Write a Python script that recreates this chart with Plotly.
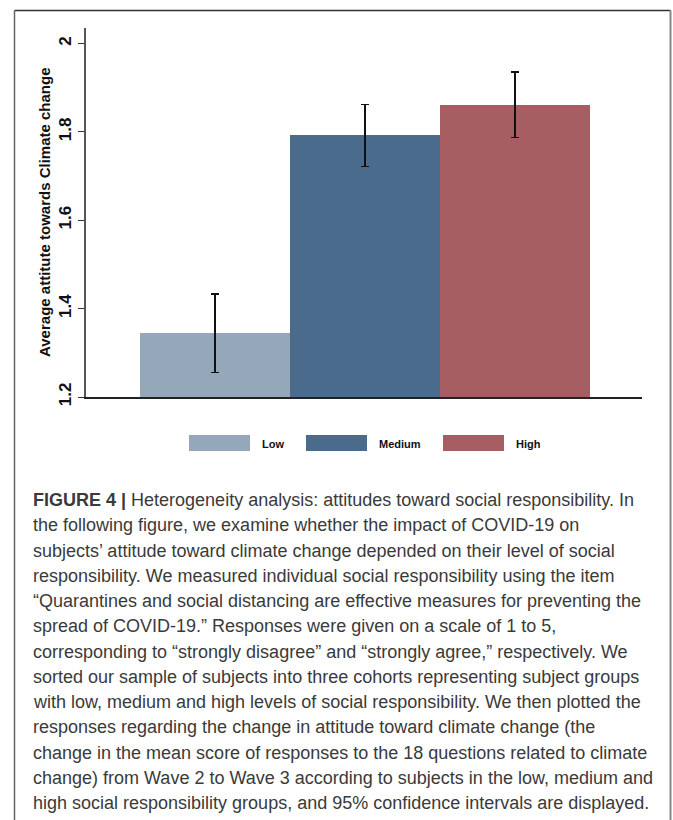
import plotly.graph_objects as go

# Social-responsibility cohorts and their mean attitude with 95% CI half-widths
groups = ["Low", "Medium", "High"]
means = [1.344, 1.792, 1.861]
ci_half = [0.089, 0.070, 0.074]
colors = ["#95a8b9", "#4a6b8b", "#a65e62"]

y_ticks = [1.2, 1.4, 1.6, 1.8, 2.0]
y_tick_labels = ["1.2", "1.4", "1.6", "1.8", "2"]

caption_lines = [
    "<b>FIGURE 4 |</b> Heterogeneity analysis: attitudes toward social responsibility. In",
    "the following figure, we examine whether the impact of COVID-19 on",
    "subjects\u2019 attitude toward climate change depended on their level of social",
    "responsibility. We measured individual social responsibility using the item",
    "\u201cQuarantines and social distancing are effective measures for preventing the",
    "spread of COVID-19.\u201d Responses were given on a scale of 1 to 5,",
    "corresponding to \u201cstrongly disagree\u201d and \u201cstrongly agree,\u201d respectively. We",
    "sorted our sample of subjects into three cohorts representing subject groups",
    "with low, medium and high levels of social responsibility. We then plotted the",
    "responses regarding the change in attitude toward climate change (the",
    "change in the mean score of responses to the 18 questions related to climate",
    "change) from Wave 2 to Wave 3 according to subjects in the low, medium and",
    "high social responsibility groups, and 95% confidence intervals are displayed.",
]

W, H = 673, 820
L, R, T, B = 86, 31, 28, 423
PW, PH = W - L - R, H - T - B


def px(x):
    return (x - L) / PW


def py(y):
    return (H - B - y) / PH


fig = go.Figure()
fig.add_trace(go.Bar(
    x=list(range(len(groups))),
    y=[m - 1.2 for m in means],
    base=1.2,
    width=1.0,
    marker=dict(color=colors, line=dict(width=0)),
    error_y=dict(type="data", array=ci_half, symmetric=True,
                 color="#111111", thickness=1.6, width=4),
    showlegend=False,
    hoverinfo="skip",
))

shapes = []
annotations = []

# Outer frame of the figure panel
frame_l, frame_r, frame_t, frame_b = px(14.5), px(670.5), py(10.5), py(830)
shapes.append(dict(type="line", xref="paper", yref="paper", x0=frame_l, x1=frame_r,
                   y0=frame_t, y1=frame_t, line=dict(color="#333333", width=1.5)))
shapes.append(dict(type="line", xref="paper", yref="paper", x0=frame_l, x1=frame_l,
                   y0=frame_t, y1=frame_b, line=dict(color="#666666", width=1.5)))
shapes.append(dict(type="line", xref="paper", yref="paper", x0=frame_r, x1=frame_r,
                   y0=frame_t, y1=frame_b, line=dict(color="#888888", width=2)))

# Legend: wide swatches with bold labels
legend_box_x = [189, 306, 443]
legend_label_x = [260, 377, 514]
for gx, lx, name, c in zip(legend_box_x, legend_label_x, groups, colors):
    shapes.append(dict(type="rect", xref="paper", yref="paper",
                       x0=px(gx), x1=px(gx + 61), y0=py(451), y1=py(435),
                       fillcolor=c, line=dict(width=0)))
    annotations.append(dict(xref="paper", yref="paper", x=px(lx), y=py(443.5),
                            xanchor="left", yanchor="middle", showarrow=False,
                            text=f"<b>{name}</b>",
                            font=dict(family="Liberation Sans, Arial", size=11, color="#111111")))

# Rotated y-axis title
annotations.append(dict(xref="paper", yref="paper", x=px(44.5), y=py(212.5),
                        xanchor="center", yanchor="middle", showarrow=False, textangle=-90,
                        text="<b>Average attitute towards Climate change</b>",
                        font=dict(family="Liberation Sans, Arial", size=15, color="#111111")))

# Caption paragraph, one annotation per line
for i, line in enumerate(caption_lines):
    annotations.append(dict(xref="paper", yref="paper", x=px(31), y=py(500 + 25.25 * i),
                            xanchor="left", yanchor="middle", showarrow=False,
                            text=line, align="left",
                            font=dict(family="Liberation Sans, Arial", size=18, color="#3a3a3a")))

fig.update_layout(
    width=W, height=H,
    margin=dict(l=L, r=R, t=T, b=B, pad=0),
    paper_bgcolor="white", plot_bgcolor="white",
    bargap=0,
    shapes=shapes,
    annotations=annotations,
    xaxis=dict(range=[-0.86, 2.847], showgrid=False, zeroline=False,
               showticklabels=False, ticks="", showline=True,
               linecolor="#222222", linewidth=1.5, fixedrange=True),
    yaxis=dict(range=[1.2, 2.035], tickvals=y_ticks, ticktext=y_tick_labels,
               ticks="outside", ticklen=6, tickwidth=1, tickcolor="#333333",
               tickangle=-90, showgrid=False, zeroline=False,
               showline=True, linecolor="#555555", linewidth=1.5,
               tickfont=dict(family="Liberation Sans, Arial", size=17, color="#111111", weight="bold"),
               fixedrange=True),
)

fig.write_html("out.html", config={"displayModeBar": False})
